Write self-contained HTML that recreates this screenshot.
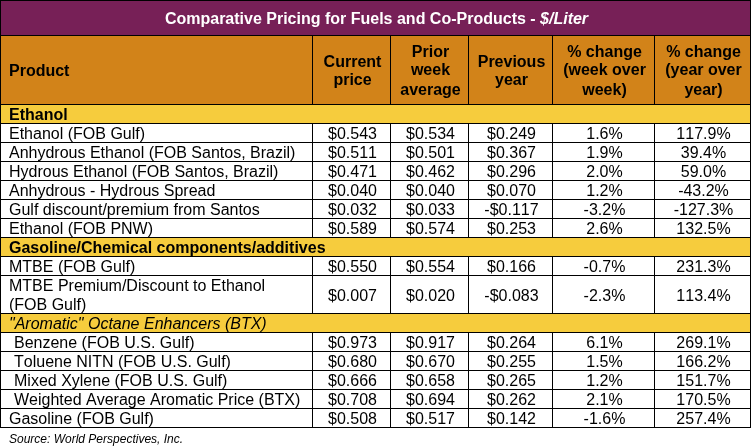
<!DOCTYPE html>
<html><head><meta charset="utf-8"><title>Comparative Pricing for Fuels and Co-Products</title>
<style>
html,body{margin:0;padding:0;background:#fff;}
body{width:752px;height:447px;position:relative;overflow:hidden;font-family:"Liberation Sans",Arial,sans-serif;font-size:16px;color:#000;font-kerning:none;}
.b{position:absolute;background:#000;}
.bg{position:absolute;}
.t{position:absolute;white-space:nowrap;line-height:18px;height:18px;}
.c{text-align:center;}
.h{font-weight:bold;}
.i{font-style:italic;}
</style></head><body>

<div class="bg" style="left:0px;top:0px;width:751px;height:36px;background:#772057"></div>
<div class="bg" style="left:0px;top:36px;width:751px;height:69px;background:#D28319"></div>
<div class="bg" style="left:0px;top:104px;width:751px;height:20px;background:#F6CC3D"></div>
<div class="bg" style="left:0px;top:237px;width:751px;height:20px;background:#F6CC3D"></div>
<div class="bg" style="left:0px;top:313px;width:751px;height:20px;background:#F6CC3D"></div>
<div class="b" style="left:0;top:0px;width:751px;height:1px"></div>
<div class="b" style="left:0;top:35px;width:751px;height:1px"></div>
<div class="b" style="left:0;top:104px;width:751px;height:1px"></div>
<div class="b" style="left:0;top:123px;width:751px;height:1px"></div>
<div class="b" style="left:0;top:142px;width:751px;height:1px"></div>
<div class="b" style="left:0;top:161px;width:751px;height:1px"></div>
<div class="b" style="left:0;top:180px;width:751px;height:1px"></div>
<div class="b" style="left:0;top:199px;width:751px;height:1px"></div>
<div class="b" style="left:0;top:218px;width:751px;height:1px"></div>
<div class="b" style="left:0;top:237px;width:751px;height:1px"></div>
<div class="b" style="left:0;top:256px;width:751px;height:1px"></div>
<div class="b" style="left:0;top:275px;width:751px;height:1px"></div>
<div class="b" style="left:0;top:313px;width:751px;height:1px"></div>
<div class="b" style="left:0;top:332px;width:751px;height:1px"></div>
<div class="b" style="left:0;top:351px;width:751px;height:1px"></div>
<div class="b" style="left:0;top:370px;width:751px;height:1px"></div>
<div class="b" style="left:0;top:389px;width:751px;height:1px"></div>
<div class="b" style="left:0;top:408px;width:751px;height:1px"></div>
<div class="b" style="left:0;top:427px;width:751px;height:1px"></div>
<div class="b" style="left:0;top:0;width:1px;height:428px"></div>
<div class="b" style="left:750px;top:0;width:1px;height:428px"></div>
<div class="b" style="left:312px;top:35px;width:1px;height:70px"></div>
<div class="b" style="left:390px;top:35px;width:1px;height:70px"></div>
<div class="b" style="left:468px;top:35px;width:1px;height:70px"></div>
<div class="b" style="left:552px;top:35px;width:1px;height:70px"></div>
<div class="b" style="left:654px;top:35px;width:1px;height:70px"></div>
<div class="b" style="left:312px;top:123px;width:1px;height:20px"></div>
<div class="b" style="left:390px;top:123px;width:1px;height:20px"></div>
<div class="b" style="left:468px;top:123px;width:1px;height:20px"></div>
<div class="b" style="left:552px;top:123px;width:1px;height:20px"></div>
<div class="b" style="left:654px;top:123px;width:1px;height:20px"></div>
<div class="b" style="left:312px;top:142px;width:1px;height:20px"></div>
<div class="b" style="left:390px;top:142px;width:1px;height:20px"></div>
<div class="b" style="left:468px;top:142px;width:1px;height:20px"></div>
<div class="b" style="left:552px;top:142px;width:1px;height:20px"></div>
<div class="b" style="left:654px;top:142px;width:1px;height:20px"></div>
<div class="b" style="left:312px;top:161px;width:1px;height:20px"></div>
<div class="b" style="left:390px;top:161px;width:1px;height:20px"></div>
<div class="b" style="left:468px;top:161px;width:1px;height:20px"></div>
<div class="b" style="left:552px;top:161px;width:1px;height:20px"></div>
<div class="b" style="left:654px;top:161px;width:1px;height:20px"></div>
<div class="b" style="left:312px;top:180px;width:1px;height:20px"></div>
<div class="b" style="left:390px;top:180px;width:1px;height:20px"></div>
<div class="b" style="left:468px;top:180px;width:1px;height:20px"></div>
<div class="b" style="left:552px;top:180px;width:1px;height:20px"></div>
<div class="b" style="left:654px;top:180px;width:1px;height:20px"></div>
<div class="b" style="left:312px;top:199px;width:1px;height:20px"></div>
<div class="b" style="left:390px;top:199px;width:1px;height:20px"></div>
<div class="b" style="left:468px;top:199px;width:1px;height:20px"></div>
<div class="b" style="left:552px;top:199px;width:1px;height:20px"></div>
<div class="b" style="left:654px;top:199px;width:1px;height:20px"></div>
<div class="b" style="left:312px;top:218px;width:1px;height:20px"></div>
<div class="b" style="left:390px;top:218px;width:1px;height:20px"></div>
<div class="b" style="left:468px;top:218px;width:1px;height:20px"></div>
<div class="b" style="left:552px;top:218px;width:1px;height:20px"></div>
<div class="b" style="left:654px;top:218px;width:1px;height:20px"></div>
<div class="b" style="left:312px;top:256px;width:1px;height:20px"></div>
<div class="b" style="left:390px;top:256px;width:1px;height:20px"></div>
<div class="b" style="left:468px;top:256px;width:1px;height:20px"></div>
<div class="b" style="left:552px;top:256px;width:1px;height:20px"></div>
<div class="b" style="left:654px;top:256px;width:1px;height:20px"></div>
<div class="b" style="left:312px;top:275px;width:1px;height:39px"></div>
<div class="b" style="left:390px;top:275px;width:1px;height:39px"></div>
<div class="b" style="left:468px;top:275px;width:1px;height:39px"></div>
<div class="b" style="left:552px;top:275px;width:1px;height:39px"></div>
<div class="b" style="left:654px;top:275px;width:1px;height:39px"></div>
<div class="b" style="left:312px;top:332px;width:1px;height:20px"></div>
<div class="b" style="left:390px;top:332px;width:1px;height:20px"></div>
<div class="b" style="left:468px;top:332px;width:1px;height:20px"></div>
<div class="b" style="left:552px;top:332px;width:1px;height:20px"></div>
<div class="b" style="left:654px;top:332px;width:1px;height:20px"></div>
<div class="b" style="left:312px;top:351px;width:1px;height:20px"></div>
<div class="b" style="left:390px;top:351px;width:1px;height:20px"></div>
<div class="b" style="left:468px;top:351px;width:1px;height:20px"></div>
<div class="b" style="left:552px;top:351px;width:1px;height:20px"></div>
<div class="b" style="left:654px;top:351px;width:1px;height:20px"></div>
<div class="b" style="left:312px;top:370px;width:1px;height:20px"></div>
<div class="b" style="left:390px;top:370px;width:1px;height:20px"></div>
<div class="b" style="left:468px;top:370px;width:1px;height:20px"></div>
<div class="b" style="left:552px;top:370px;width:1px;height:20px"></div>
<div class="b" style="left:654px;top:370px;width:1px;height:20px"></div>
<div class="b" style="left:312px;top:389px;width:1px;height:20px"></div>
<div class="b" style="left:390px;top:389px;width:1px;height:20px"></div>
<div class="b" style="left:468px;top:389px;width:1px;height:20px"></div>
<div class="b" style="left:552px;top:389px;width:1px;height:20px"></div>
<div class="b" style="left:654px;top:389px;width:1px;height:20px"></div>
<div class="b" style="left:312px;top:408px;width:1px;height:20px"></div>
<div class="b" style="left:390px;top:408px;width:1px;height:20px"></div>
<div class="b" style="left:468px;top:408px;width:1px;height:20px"></div>
<div class="b" style="left:552px;top:408px;width:1px;height:20px"></div>
<div class="b" style="left:654px;top:408px;width:1px;height:20px"></div>
<div id="txt" style="position:absolute;left:0;top:0;width:752px;height:447px;will-change:transform">
<div class="t c h" style="left:1px;top:10px;width:751px;color:#fff">Comparative Pricing for Fuels and Co-Products - <span class="i">$/Liter</span></div>
<div class="t h" style="left:9px;top:62px;">Product</div>
<div class="t c h" style="left:314px;top:53px;width:77px;">Current</div>
<div class="t c h" style="left:314px;top:71px;width:77px;">price</div>
<div class="t c h" style="left:392px;top:43px;width:77px;">Prior</div>
<div class="t c h" style="left:392px;top:61px;width:77px;">week</div>
<div class="t c h" style="left:392px;top:81px;width:77px;">average</div>
<div class="t c h" style="left:470px;top:53px;width:83px;">Previous</div>
<div class="t c h" style="left:470px;top:71px;width:83px;">year</div>
<div class="t c h" style="left:554px;top:43px;width:101px;">% change</div>
<div class="t c h" style="left:554px;top:61px;width:101px;">(week over</div>
<div class="t c h" style="left:554px;top:81px;width:101px;">week)</div>
<div class="t c h" style="left:656px;top:43px;width:95px;">% change</div>
<div class="t c h" style="left:656px;top:61px;width:95px;">(year over</div>
<div class="t c h" style="left:656px;top:81px;width:95px;">year)</div>
<div class="t h" style="left:9px;top:106px;">Ethanol</div>
<div class="t " style="left:9px;top:125px;">Ethanol (FOB Gulf)</div>
<div class="t c" style="left:314px;top:125px;width:77px;">$0.543</div>
<div class="t c" style="left:392px;top:125px;width:77px;">$0.534</div>
<div class="t c" style="left:470px;top:125px;width:83px;">$0.249</div>
<div class="t c" style="left:554px;top:125px;width:101px;">1.6%</div>
<div class="t c" style="left:656px;top:125px;width:95px;">117.9%</div>
<div class="t " style="left:9px;top:144px;">Anhydrous Ethanol (FOB Santos, Brazil)</div>
<div class="t c" style="left:314px;top:144px;width:77px;">$0.511</div>
<div class="t c" style="left:392px;top:144px;width:77px;">$0.501</div>
<div class="t c" style="left:470px;top:144px;width:83px;">$0.367</div>
<div class="t c" style="left:554px;top:144px;width:101px;">1.9%</div>
<div class="t c" style="left:656px;top:144px;width:95px;">39.4%</div>
<div class="t " style="left:9px;top:163px;">Hydrous Ethanol (FOB Santos, Brazil)</div>
<div class="t c" style="left:314px;top:163px;width:77px;">$0.471</div>
<div class="t c" style="left:392px;top:163px;width:77px;">$0.462</div>
<div class="t c" style="left:470px;top:163px;width:83px;">$0.296</div>
<div class="t c" style="left:554px;top:163px;width:101px;">2.0%</div>
<div class="t c" style="left:656px;top:163px;width:95px;">59.0%</div>
<div class="t " style="left:9px;top:182px;">Anhydrous - Hydrous Spread</div>
<div class="t c" style="left:314px;top:182px;width:77px;">$0.040</div>
<div class="t c" style="left:392px;top:182px;width:77px;">$0.040</div>
<div class="t c" style="left:470px;top:182px;width:83px;">$0.070</div>
<div class="t c" style="left:554px;top:182px;width:101px;">1.2%</div>
<div class="t c" style="left:656px;top:182px;width:95px;">-43.2%</div>
<div class="t " style="left:9px;top:201px;">Gulf discount/premium from Santos</div>
<div class="t c" style="left:314px;top:201px;width:77px;">$0.032</div>
<div class="t c" style="left:392px;top:201px;width:77px;">$0.033</div>
<div class="t c" style="left:470px;top:201px;width:83px;">-$0.117</div>
<div class="t c" style="left:554px;top:201px;width:101px;">-3.2%</div>
<div class="t c" style="left:656px;top:201px;width:95px;">-127.3%</div>
<div class="t " style="left:9px;top:220px;">Ethanol (FOB PNW)</div>
<div class="t c" style="left:314px;top:220px;width:77px;">$0.589</div>
<div class="t c" style="left:392px;top:220px;width:77px;">$0.574</div>
<div class="t c" style="left:470px;top:220px;width:83px;">$0.253</div>
<div class="t c" style="left:554px;top:220px;width:101px;">2.6%</div>
<div class="t c" style="left:656px;top:220px;width:95px;">132.5%</div>
<div class="t h" style="left:9px;top:239px;">Gasoline/Chemical components/additives</div>
<div class="t " style="left:9px;top:258px;">MTBE (FOB Gulf)</div>
<div class="t c" style="left:314px;top:258px;width:77px;">$0.550</div>
<div class="t c" style="left:392px;top:258px;width:77px;">$0.554</div>
<div class="t c" style="left:470px;top:258px;width:83px;">$0.166</div>
<div class="t c" style="left:554px;top:258px;width:101px;">-0.7%</div>
<div class="t c" style="left:656px;top:258px;width:95px;">231.3%</div>
<div class="t " style="left:9px;top:277px;">MTBE Premium/Discount to Ethanol</div>
<div class="t " style="left:9px;top:296px;">(FOB Gulf)</div>
<div class="t c" style="left:314px;top:287px;width:77px;">$0.007</div>
<div class="t c" style="left:392px;top:287px;width:77px;">$0.020</div>
<div class="t c" style="left:470px;top:287px;width:83px;">-$0.083</div>
<div class="t c" style="left:554px;top:287px;width:101px;">-2.3%</div>
<div class="t c" style="left:656px;top:287px;width:95px;">113.4%</div>
<div class="t i" style="left:9px;top:315px;">"Aromatic" Octane Enhancers (BTX)</div>
<div class="t " style="left:14px;top:334px;">Benzene (FOB U.S. Gulf)</div>
<div class="t c" style="left:314px;top:334px;width:77px;">$0.973</div>
<div class="t c" style="left:392px;top:334px;width:77px;">$0.917</div>
<div class="t c" style="left:470px;top:334px;width:83px;">$0.264</div>
<div class="t c" style="left:554px;top:334px;width:101px;">6.1%</div>
<div class="t c" style="left:656px;top:334px;width:95px;">269.1%</div>
<div class="t " style="left:14px;top:353px;">Toluene NITN (FOB U.S. Gulf)</div>
<div class="t c" style="left:314px;top:353px;width:77px;">$0.680</div>
<div class="t c" style="left:392px;top:353px;width:77px;">$0.670</div>
<div class="t c" style="left:470px;top:353px;width:83px;">$0.255</div>
<div class="t c" style="left:554px;top:353px;width:101px;">1.5%</div>
<div class="t c" style="left:656px;top:353px;width:95px;">166.2%</div>
<div class="t " style="left:14px;top:372px;">Mixed Xylene (FOB U.S. Gulf)</div>
<div class="t c" style="left:314px;top:372px;width:77px;">$0.666</div>
<div class="t c" style="left:392px;top:372px;width:77px;">$0.658</div>
<div class="t c" style="left:470px;top:372px;width:83px;">$0.265</div>
<div class="t c" style="left:554px;top:372px;width:101px;">1.2%</div>
<div class="t c" style="left:656px;top:372px;width:95px;">151.7%</div>
<div class="t " style="left:14px;top:391px;">Weighted Average Aromatic Price (BTX)</div>
<div class="t c" style="left:314px;top:391px;width:77px;">$0.708</div>
<div class="t c" style="left:392px;top:391px;width:77px;">$0.694</div>
<div class="t c" style="left:470px;top:391px;width:83px;">$0.262</div>
<div class="t c" style="left:554px;top:391px;width:101px;">2.1%</div>
<div class="t c" style="left:656px;top:391px;width:95px;">170.5%</div>
<div class="t " style="left:9px;top:410px;">Gasoline (FOB Gulf)</div>
<div class="t c" style="left:314px;top:410px;width:77px;">$0.508</div>
<div class="t c" style="left:392px;top:410px;width:77px;">$0.517</div>
<div class="t c" style="left:470px;top:410px;width:83px;">$0.142</div>
<div class="t c" style="left:554px;top:410px;width:101px;">-1.6%</div>
<div class="t c" style="left:656px;top:410px;width:95px;">257.4%</div>
<div class="t i" style="left:9px;top:432px;font-size:12px;line-height:14px;height:14px">Source: World Perspectives, Inc.</div>
</div>
</body></html>
